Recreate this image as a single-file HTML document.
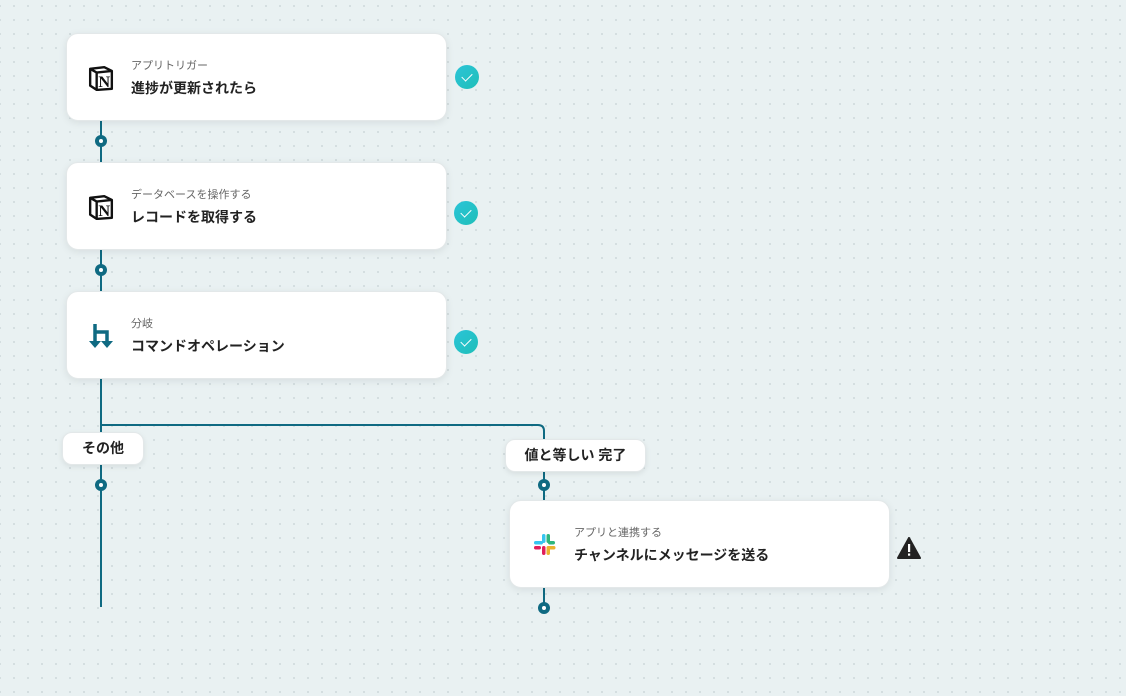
<!DOCTYPE html>
<html><head><meta charset="utf-8"><style>
*{margin:0;padding:0;box-sizing:border-box}
body{width:1126px;height:696px;overflow:hidden;background-color:#e9f1f2;
background-image:radial-gradient(circle,#d3dddf 1px,transparent 1.2px);background-size:14px 14px;background-position:7px -1px;
font-family:"Liberation Sans","Noto Sans CJK JP",sans-serif;position:relative}
.card{position:absolute;width:381px;height:88px;background:#fff;border-radius:12px;box-shadow:0 2px 8px rgba(0,0,0,.08);border:1px solid #e3e8e9}
.sub{position:absolute;left:64px;top:23px;font-size:11px;color:#666}
.main{position:absolute;left:64px;top:44px;font-size:14px;font-weight:bold;color:#222}
.icon{position:absolute;left:21px;top:31px}
.check{position:absolute;width:24px;height:24px;border-radius:50%;background:linear-gradient(135deg,#2bc4d8,#1fbfb8)}
.check:after{content:"";position:absolute;left:9px;top:6px;width:5px;height:9px;border:solid #fff;border-width:0 1.6px 1.6px 0;transform:rotate(45deg)}
.lbl{position:absolute;background:#fff;border-radius:10px;box-shadow:0 2px 6px rgba(0,0,0,.08);border:1px solid #e3e8e9;font-size:14px;font-weight:bold;color:#222;text-align:center;line-height:31px;height:33px}
</style></head><body>
<svg width="1126" height="696" style="position:absolute;left:0;top:0">
<g stroke="#0f6a82" stroke-width="2" fill="none">
<line x1="101" y1="120" x2="101" y2="162"/>
<line x1="101" y1="249" x2="101" y2="291"/>
<line x1="101" y1="378" x2="101" y2="607"/>
<path d="M101 425 H538 Q544 425 544 431 V500"/>
<line x1="544" y1="587" x2="544" y2="607"/>
</g>
<g fill="#0f6a82">
<circle cx="101" cy="141" r="6"/><circle cx="101" cy="270" r="6"/><circle cx="101" cy="485" r="6"/><circle cx="544" cy="485" r="6"/><circle cx="544" cy="608" r="6"/>
</g>
<g fill="#fff"><circle cx="101" cy="141" r="2"/><circle cx="101" cy="270" r="2"/><circle cx="101" cy="485" r="2"/><circle cx="544" cy="485" r="2"/><circle cx="544" cy="608" r="2"/></g>
</svg>

<div class="card" style="left:66px;top:33px">
<svg class="icon" width="26" height="26" viewBox="0 0 24 24"><path d="M2 3.5 L15 2 L22 5.5 L22 22 L8 23 L2 19 Z" fill="#fff" stroke="#111" stroke-width="2.2" stroke-linejoin="round"/><path d="M2 3.5 L8 7 L22 5.5" fill="none" stroke="#111" stroke-width="2.2"/><line x1="8" y1="7" x2="8" y2="23" stroke="#111" stroke-width="2.2"/><text x="15" y="20.5" font-size="15" font-weight="bold" font-family="Liberation Serif" text-anchor="middle" fill="#111">N</text></svg>
<div class="sub">アプリトリガー</div><div class="main">進捗が更新されたら</div></div>
<div class="check" style="left:455px;top:65px"></div>

<div class="card" style="left:66px;top:162px">
<svg class="icon" width="26" height="26" viewBox="0 0 24 24"><path d="M2 3.5 L15 2 L22 5.5 L22 22 L8 23 L2 19 Z" fill="#fff" stroke="#111" stroke-width="2.2" stroke-linejoin="round"/><path d="M2 3.5 L8 7 L22 5.5" fill="none" stroke="#111" stroke-width="2.2"/><line x1="8" y1="7" x2="8" y2="23" stroke="#111" stroke-width="2.2"/><text x="15" y="20.5" font-size="15" font-weight="bold" font-family="Liberation Serif" text-anchor="middle" fill="#111">N</text></svg>
<div class="sub">データベースを操作する</div><div class="main">レコードを取得する</div></div>
<div class="check" style="left:454px;top:201px"></div>

<div class="card" style="left:66px;top:291px">
<svg class="icon" style="left:22px;top:31px" width="26" height="26" viewBox="0 0 26 26"><g fill="none" stroke="#0f6a82" stroke-width="3.5"><line x1="6" y1="1" x2="6" y2="19"/><path d="M6 9 H18 V19"/></g><path d="M0 18 H12 L6 25Z M12 18 H24 L18 25Z" fill="#0f6a82"/></svg>
<div class="sub">分岐</div><div class="main">コマンドオペレーション</div></div>
<div class="check" style="left:454px;top:330px"></div>

<div class="lbl" style="left:62px;top:432px;width:82px">その他</div>
<div class="lbl" style="left:505px;top:439px;width:141px">値と等しい 完了</div>

<div class="card" style="left:509px;top:500px">
<svg class="icon" style="left:23px;top:32px" width="24" height="24" viewBox="0 0 24 24">
<rect x="9" y="1" width="3.5" height="9" rx="1.7" fill="#36c5f0"/>
<rect x="1" y="8" width="9" height="3.5" rx="1.7" fill="#36c5f0"/>
<rect x="13.5" y="1" width="3.5" height="9" rx="1.7" fill="#2eb67d"/>
<rect x="15" y="8" width="7" height="3.5" rx="1.7" fill="#2eb67d"/>
<rect x="13.5" y="13" width="9" height="3.5" rx="1.7" fill="#ecb22e"/>
<rect x="13.5" y="15" width="3.5" height="7" rx="1.7" fill="#ecb22e"/>
<rect x="1" y="13" width="7" height="3.5" rx="1.7" fill="#e01e5a"/>
<rect x="9" y="13" width="3.5" height="9" rx="1.7" fill="#e01e5a"/>
</svg>
<div class="sub">アプリと連携する</div><div class="main">チャンネルにメッセージを送る</div></div>
<svg style="position:absolute;left:897px;top:537px" width="24" height="22" viewBox="0 0 24 22"><path d="M12 1 L23 21 H1 Z" fill="#222" stroke="#222" stroke-width="2" stroke-linejoin="round"/><rect x="11" y="7" width="2.2" height="8" fill="#fff"/><rect x="11" y="16.5" width="2.2" height="2.2" fill="#fff"/></svg>
</body></html>
